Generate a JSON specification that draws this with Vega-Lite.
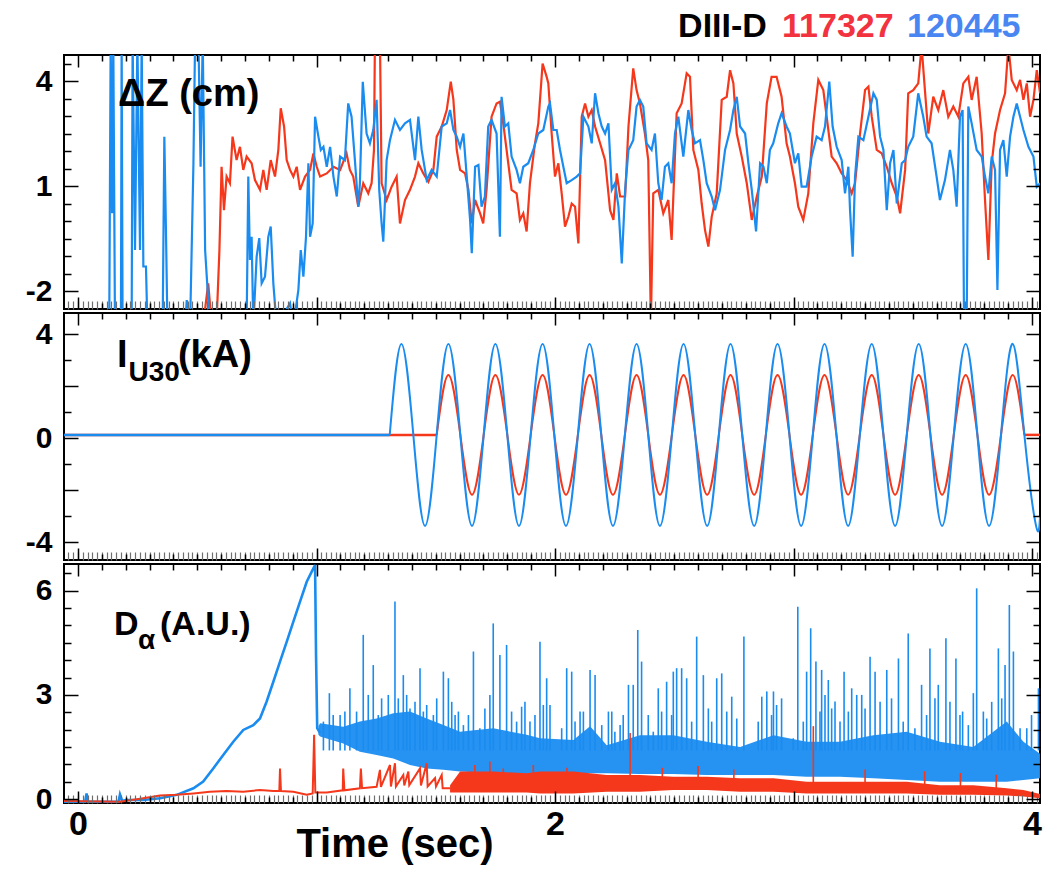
{
"$schema": "https://vega.github.io/schema/vega-lite/v6.json",
"background": "white",
"padding": {"left": 24, "top": 9, "right": 4, "bottom": 4},
"spacing": 4,
"bounds": "flush",
"resolve": {"scale": {"y": "independent"}},
"config": {"view": {"stroke": "black", "strokeWidth": 2}, "axis": {"labelFont": "Liberation Sans", "labelFontWeight": "bold", "labelColor": "black"}},
"datasets": {
"dz_red": [{"t":0.45,"v":-3},{"t":0.526,"v":-2.9},{"t":0.546,"v":-1.78},{"t":0.56,"v":-2.9},{"t":0.581,"v":-2.9},{"t":0.593,"v":-0.83},{"t":0.602,"v":1.55},{"t":0.612,"v":0.31},{"t":0.623,"v":1.27},{"t":0.637,"v":1.08},{"t":0.648,"v":2.41},{"t":0.665,"v":1.74},{"t":0.679,"v":2.12},{"t":0.693,"v":1.46},{"t":0.707,"v":1.84},{"t":0.728,"v":1.65},{"t":0.742,"v":1.17},{"t":0.763,"v":0.89},{"t":0.777,"v":1.46},{"t":0.791,"v":0.89},{"t":0.808,"v":1.74},{"t":0.826,"v":1.27},{"t":0.84,"v":2.03},{"t":0.85,"v":3.22},{"t":0.864,"v":2.7},{"t":0.875,"v":1.74},{"t":0.889,"v":1.46},{"t":0.903,"v":1.27},{"t":0.917,"v":1.55},{"t":0.931,"v":0.89},{"t":0.952,"v":1.27},{"t":0.973,"v":1.46},{"t":0.987,"v":1.93},{"t":1.001,"v":1.55},{"t":1.015,"v":1.27},{"t":1.043,"v":1.36},{"t":1.071,"v":1.55},{"t":1.099,"v":1.46},{"t":1.126,"v":1.93},{"t":1.14,"v":1.46},{"t":1.154,"v":1.27},{"t":1.175,"v":0.41},{"t":1.196,"v":1.08},{"t":1.217,"v":0.79},{"t":1.231,"v":1.08},{"t":1.241,"v":2.03},{"t":1.245,"v":5.2},{"t":1.266,"v":5.2},{"t":1.273,"v":1.08},{"t":1.294,"v":0.6},{"t":1.315,"v":0.98},{"t":1.336,"v":1.27},{"t":1.35,"v":-0.07},{"t":1.371,"v":0.6},{"t":1.392,"v":0.89},{"t":1.413,"v":1.27},{"t":1.427,"v":1.65},{"t":1.448,"v":1.36},{"t":1.469,"v":1.12},{"t":1.49,"v":1.46},{"t":1.504,"v":2.41},{"t":1.525,"v":2.7},{"t":1.546,"v":3.17},{"t":1.563,"v":3.98},{"t":1.574,"v":3.46},{"t":1.588,"v":2.03},{"t":1.602,"v":1.46},{"t":1.623,"v":1.36},{"t":1.637,"v":0.89},{"t":1.651,"v":-0.07},{"t":1.665,"v":0.6},{"t":1.686,"v":0.22},{"t":1.699,"v":-0.07},{"t":1.713,"v":0.89},{"t":1.734,"v":2.98},{"t":1.755,"v":3.36},{"t":1.769,"v":3.41},{"t":1.783,"v":2.79},{"t":1.797,"v":2.03},{"t":1.818,"v":0.89},{"t":1.839,"v":0.79},{"t":1.853,"v":0.03},{"t":1.867,"v":0.22},{"t":1.881,"v":-0.3},{"t":1.895,"v":1.08},{"t":1.916,"v":2.22},{"t":1.93,"v":2.79},{"t":1.948,"v":4.5},{"t":1.965,"v":4.12},{"t":1.972,"v":3.93},{"t":1.986,"v":2.5},{"t":2.0,"v":1.27},{"t":2.014,"v":1.65},{"t":2.028,"v":0.79},{"t":2.042,"v":-0.16},{"t":2.056,"v":0.12},{"t":2.07,"v":0.5},{"t":2.084,"v":0.41},{"t":2.098,"v":-0.64},{"t":2.112,"v":2.98},{"t":2.126,"v":3.36},{"t":2.14,"v":2.98},{"t":2.154,"v":3.17},{"t":2.168,"v":2.7},{"t":2.189,"v":2.22},{"t":2.21,"v":1.74},{"t":2.231,"v":0.31},{"t":2.245,"v":0.03},{"t":2.259,"v":1.36},{"t":2.273,"v":0.7},{"t":2.294,"v":0.7},{"t":2.308,"v":2.7},{"t":2.328,"v":4.36},{"t":2.342,"v":3.74},{"t":2.356,"v":3.36},{"t":2.377,"v":2.5},{"t":2.391,"v":1.74},{"t":2.402,"v":-2.9},{"t":2.412,"v":0.79},{"t":2.433,"v":0.89},{"t":2.454,"v":0.22},{"t":2.475,"v":0.6},{"t":2.489,"v":-0.54},{"t":2.51,"v":3.08},{"t":2.531,"v":3.36},{"t":2.552,"v":4.22},{"t":2.566,"v":4.12},{"t":2.58,"v":2.03},{"t":2.601,"v":1.46},{"t":2.615,"v":0.5},{"t":2.629,"v":-0.26},{"t":2.643,"v":-0.73},{"t":2.657,"v":0.12},{"t":2.678,"v":0.79},{"t":2.699,"v":3.46},{"t":2.72,"v":3.55},{"t":2.734,"v":4.31},{"t":2.748,"v":3.93},{"t":2.762,"v":2.5},{"t":2.783,"v":1.84},{"t":2.804,"v":1.08},{"t":2.825,"v":0.03},{"t":2.846,"v":0.7},{"t":2.867,"v":1.27},{"t":2.888,"v":3.36},{"t":2.908,"v":4.12},{"t":2.929,"v":4.12},{"t":2.95,"v":3.55},{"t":2.971,"v":2.22},{"t":2.985,"v":1.84},{"t":3.006,"v":1.08},{"t":3.02,"v":0.41},{"t":3.041,"v":0.03},{"t":3.062,"v":0.79},{"t":3.083,"v":2.79},{"t":3.104,"v":4.03},{"t":3.125,"v":3.74},{"t":3.139,"v":2.98},{"t":3.16,"v":1.84},{"t":3.181,"v":1.65},{"t":3.202,"v":1.36},{"t":3.223,"v":1.17},{"t":3.244,"v":0.79},{"t":3.258,"v":1.08},{"t":3.279,"v":2.5},{"t":3.3,"v":3.74},{"t":3.314,"v":3.84},{"t":3.328,"v":2.98},{"t":3.349,"v":2.03},{"t":3.37,"v":1.93},{"t":3.391,"v":1.55},{"t":3.412,"v":1.08},{"t":3.433,"v":0.7},{"t":3.447,"v":0.22},{"t":3.468,"v":1.46},{"t":3.481,"v":3.65},{"t":3.502,"v":3.74},{"t":3.523,"v":3.93},{"t":3.537,"v":5.0},{"t":3.551,"v":3.74},{"t":3.565,"v":2.5},{"t":3.586,"v":3.55},{"t":3.607,"v":3.17},{"t":3.628,"v":3.74},{"t":3.649,"v":2.98},{"t":3.67,"v":3.27},{"t":3.691,"v":2.98},{"t":3.712,"v":3.93},{"t":3.733,"v":4.12},{"t":3.747,"v":3.46},{"t":3.768,"v":4.12},{"t":3.789,"v":2.5},{"t":3.803,"v":0.6},{"t":3.817,"v":-1.11},{"t":3.831,"v":1.65},{"t":3.845,"v":2.5},{"t":3.866,"v":3.17},{"t":3.887,"v":3.65},{"t":3.901,"v":5.0},{"t":3.915,"v":4.03},{"t":3.936,"v":3.74},{"t":3.95,"v":4.03},{"t":3.964,"v":3.46},{"t":3.978,"v":3.93},{"t":3.992,"v":2.98},{"t":4.006,"v":3.46},{"t":4.02,"v":4.31},{"t":4.034,"v":3.65}],
"dz_blue": [{"t":-0.06,"v":-3},{"t":0.131,"v":-3},{"t":0.137,"v":5.2},{"t":0.143,"v":0.22},{"t":0.148,"v":5.2},{"t":0.155,"v":-3},{"t":0.18,"v":-3},{"t":0.183,"v":5.2},{"t":0.187,"v":-3},{"t":0.225,"v":-3},{"t":0.229,"v":5.2},{"t":0.239,"v":-0.83},{"t":0.249,"v":5.2},{"t":0.26,"v":-0.83},{"t":0.267,"v":5.2},{"t":0.274,"v":-1.3},{"t":0.285,"v":-1.3},{"t":0.291,"v":-3},{"t":0.355,"v":-3},{"t":0.362,"v":2.41},{"t":0.369,"v":-0.35},{"t":0.375,"v":-3},{"t":0.449,"v":-3},{"t":0.456,"v":-2.26},{"t":0.47,"v":-3},{"t":0.484,"v":1.65},{"t":0.491,"v":5.2},{"t":0.505,"v":5.2},{"t":0.514,"v":1.55},{"t":0.523,"v":5.2},{"t":0.533,"v":-0.83},{"t":0.546,"v":-2.26},{"t":0.553,"v":-3},{"t":0.707,"v":-3},{"t":0.714,"v":1.27},{"t":0.721,"v":-1.11},{"t":0.728,"v":-0.45},{"t":0.735,"v":-3},{"t":0.749,"v":-1.02},{"t":0.76,"v":-0.49},{"t":0.77,"v":-1.78},{"t":0.784,"v":-1.59},{"t":0.798,"v":-0.45},{"t":0.808,"v":-0.16},{"t":0.819,"v":-1.78},{"t":0.833,"v":-3},{"t":0.889,"v":-2.35},{"t":0.903,"v":-3},{"t":0.924,"v":-1.97},{"t":0.934,"v":-0.83},{"t":0.945,"v":-1.59},{"t":0.956,"v":-0.45},{"t":0.966,"v":1.65},{"t":0.973,"v":-0.45},{"t":0.984,"v":-0.07},{"t":0.994,"v":2.98},{"t":1.008,"v":2.41},{"t":1.018,"v":2.03},{"t":1.029,"v":2.12},{"t":1.043,"v":1.55},{"t":1.057,"v":2.12},{"t":1.071,"v":1.27},{"t":1.085,"v":0.7},{"t":1.099,"v":1.84},{"t":1.119,"v":1.74},{"t":1.133,"v":3.36},{"t":1.147,"v":2.98},{"t":1.161,"v":1.74},{"t":1.175,"v":0.41},{"t":1.182,"v":1.08},{"t":1.194,"v":3.98},{"t":1.21,"v":2.5},{"t":1.224,"v":2.22},{"t":1.238,"v":2.6},{"t":1.252,"v":3.46},{"t":1.263,"v":0.89},{"t":1.273,"v":-0.07},{"t":1.28,"v":-0.59},{"t":1.294,"v":1.74},{"t":1.308,"v":2.31},{"t":1.329,"v":2.89},{"t":1.35,"v":2.6},{"t":1.371,"v":2.79},{"t":1.392,"v":2.89},{"t":1.413,"v":1.74},{"t":1.427,"v":2.98},{"t":1.441,"v":2.03},{"t":1.462,"v":1.17},{"t":1.483,"v":1.46},{"t":1.504,"v":1.27},{"t":1.525,"v":2.7},{"t":1.546,"v":2.79},{"t":1.56,"v":3.17},{"t":1.574,"v":2.6},{"t":1.588,"v":2.41},{"t":1.602,"v":2.12},{"t":1.616,"v":2.5},{"t":1.63,"v":1.27},{"t":1.644,"v":0.03},{"t":1.651,"v":-0.92},{"t":1.665,"v":1.55},{"t":1.679,"v":1.6},{"t":1.692,"v":0.41},{"t":1.706,"v":0.7},{"t":1.72,"v":2.7},{"t":1.734,"v":2.89},{"t":1.755,"v":2.5},{"t":1.769,"v":-0.45},{"t":1.776,"v":3.55},{"t":1.79,"v":2.7},{"t":1.804,"v":2.79},{"t":1.818,"v":1.84},{"t":1.839,"v":1.46},{"t":1.853,"v":1.08},{"t":1.867,"v":1.55},{"t":1.888,"v":1.65},{"t":1.909,"v":2.03},{"t":1.93,"v":2.5},{"t":1.951,"v":2.6},{"t":1.972,"v":3.27},{"t":1.979,"v":3.36},{"t":1.993,"v":2.6},{"t":2.007,"v":2.6},{"t":2.021,"v":2.03},{"t":2.035,"v":1.55},{"t":2.049,"v":1.08},{"t":2.07,"v":1.17},{"t":2.091,"v":1.27},{"t":2.105,"v":1.36},{"t":2.119,"v":2.98},{"t":2.14,"v":2.7},{"t":2.154,"v":2.22},{"t":2.168,"v":3.65},{"t":2.182,"v":3.08},{"t":2.196,"v":2.7},{"t":2.21,"v":2.5},{"t":2.224,"v":2.79},{"t":2.238,"v":0.89},{"t":2.252,"v":1.08},{"t":2.266,"v":0.41},{"t":2.28,"v":-1.21},{"t":2.294,"v":0.89},{"t":2.308,"v":2.03},{"t":2.328,"v":2.31},{"t":2.342,"v":3.27},{"t":2.356,"v":3.46},{"t":2.37,"v":3.27},{"t":2.384,"v":2.22},{"t":2.405,"v":2.03},{"t":2.419,"v":2.5},{"t":2.433,"v":1.08},{"t":2.447,"v":0.6},{"t":2.461,"v":1.55},{"t":2.475,"v":1.65},{"t":2.489,"v":1.08},{"t":2.503,"v":2.5},{"t":2.517,"v":2.98},{"t":2.538,"v":1.84},{"t":2.559,"v":3.17},{"t":2.573,"v":2.6},{"t":2.587,"v":2.22},{"t":2.608,"v":2.31},{"t":2.622,"v":1.74},{"t":2.636,"v":1.08},{"t":2.657,"v":0.7},{"t":2.671,"v":0.31},{"t":2.692,"v":0.89},{"t":2.713,"v":2.03},{"t":2.734,"v":2.6},{"t":2.748,"v":3.17},{"t":2.762,"v":3.55},{"t":2.776,"v":2.7},{"t":2.797,"v":2.5},{"t":2.811,"v":1.65},{"t":2.825,"v":0.89},{"t":2.843,"v":-0.3},{"t":2.86,"v":1.65},{"t":2.874,"v":1.55},{"t":2.888,"v":1.08},{"t":2.901,"v":2.03},{"t":2.915,"v":2.22},{"t":2.936,"v":2.79},{"t":2.95,"v":3.08},{"t":2.971,"v":2.7},{"t":2.985,"v":2.5},{"t":3.006,"v":1.65},{"t":3.02,"v":1.93},{"t":3.034,"v":0.98},{"t":3.055,"v":0.98},{"t":3.076,"v":1.84},{"t":3.097,"v":2.41},{"t":3.118,"v":2.31},{"t":3.132,"v":2.7},{"t":3.15,"v":3.98},{"t":3.164,"v":2.7},{"t":3.181,"v":2.12},{"t":3.202,"v":1.74},{"t":3.216,"v":0.79},{"t":3.23,"v":1.55},{"t":3.237,"v":0.31},{"t":3.248,"v":-1.02},{"t":3.258,"v":1.27},{"t":3.272,"v":2.41},{"t":3.293,"v":2.31},{"t":3.314,"v":2.98},{"t":3.335,"v":3.65},{"t":3.349,"v":3.46},{"t":3.363,"v":2.41},{"t":3.377,"v":2.03},{"t":3.391,"v":0.31},{"t":3.405,"v":1.65},{"t":3.419,"v":2.03},{"t":3.433,"v":0.5},{"t":3.454,"v":1.65},{"t":3.468,"v":1.74},{"t":3.481,"v":2.12},{"t":3.502,"v":2.41},{"t":3.523,"v":3.65},{"t":3.544,"v":2.98},{"t":3.558,"v":2.41},{"t":3.579,"v":2.22},{"t":3.6,"v":1.27},{"t":3.614,"v":0.6},{"t":3.635,"v":1.17},{"t":3.656,"v":2.03},{"t":3.67,"v":1.46},{"t":3.684,"v":0.41},{"t":3.698,"v":2.98},{"t":3.709,"v":3.17},{"t":3.715,"v":-3},{"t":3.726,"v":-3},{"t":3.733,"v":3.27},{"t":3.747,"v":2.79},{"t":3.768,"v":2.03},{"t":3.789,"v":1.84},{"t":3.803,"v":1.27},{"t":3.817,"v":0.79},{"t":3.831,"v":1.84},{"t":3.845,"v":1.46},{"t":3.855,"v":-1.97},{"t":3.866,"v":2.03},{"t":3.88,"v":2.31},{"t":3.894,"v":1.27},{"t":3.908,"v":2.41},{"t":3.922,"v":2.98},{"t":3.936,"v":3.36},{"t":3.95,"v":2.98},{"t":3.964,"v":2.6},{"t":3.985,"v":2.12},{"t":4.006,"v":1.84},{"t":4.02,"v":0.98},{"t":4.034,"v":1.08}],
"iu_red_flat": [{"seg":1,"t":-0.06,"v":0.12},{"seg":1,"t":1.504,"v":0.12},{"seg":2,"t":3.968,"v":0.12},{"seg":2,"t":4.034,"v":0.12}],
"iu_blue_flat": [{"t":-0.06,"v":0.12},{"t":1.307,"v":0.12}],
"iu_red_sine": [{"t":1.504,"v":0.12},{"t":1.553,"v":2.42},{"t":1.603,"v":0.12},{"t":1.652,"v":-2.18},{"t":1.701,"v":0.12},{"t":1.75,"v":2.42},{"t":1.8,"v":0.12},{"t":1.849,"v":-2.18},{"t":1.898,"v":0.12},{"t":1.948,"v":2.42},{"t":1.997,"v":0.12},{"t":2.046,"v":-2.18},{"t":2.096,"v":0.12},{"t":2.145,"v":2.42},{"t":2.194,"v":0.12},{"t":2.243,"v":-2.18},{"t":2.293,"v":0.12},{"t":2.342,"v":2.42},{"t":2.391,"v":0.12},{"t":2.44,"v":-2.18},{"t":2.49,"v":0.12},{"t":2.539,"v":2.42},{"t":2.588,"v":0.12},{"t":2.638,"v":-2.18},{"t":2.687,"v":0.12},{"t":2.736,"v":2.42},{"t":2.785,"v":0.12},{"t":2.835,"v":-2.18},{"t":2.884,"v":0.12},{"t":2.933,"v":2.42},{"t":2.983,"v":0.12},{"t":3.032,"v":-2.18},{"t":3.081,"v":0.12},{"t":3.13,"v":2.42},{"t":3.18,"v":0.12},{"t":3.229,"v":-2.18},{"t":3.278,"v":0.12},{"t":3.328,"v":2.42},{"t":3.377,"v":0.12},{"t":3.426,"v":-2.18},{"t":3.475,"v":0.12},{"t":3.525,"v":2.42},{"t":3.574,"v":0.12},{"t":3.623,"v":-2.18},{"t":3.672,"v":0.12},{"t":3.722,"v":2.42},{"t":3.771,"v":0.12},{"t":3.82,"v":-2.18},{"t":3.87,"v":0.12},{"t":3.919,"v":2.42},{"t":3.968,"v":0.12}],
"iu_blue_sine": [{"t":1.307,"v":0.12},{"t":1.356,"v":3.62},{"t":1.406,"v":0.12},{"t":1.455,"v":-3.38},{"t":1.504,"v":0.12},{"t":1.553,"v":3.62},{"t":1.603,"v":0.12},{"t":1.652,"v":-3.38},{"t":1.701,"v":0.12},{"t":1.75,"v":3.62},{"t":1.8,"v":0.12},{"t":1.849,"v":-3.38},{"t":1.898,"v":0.12},{"t":1.948,"v":3.62},{"t":1.997,"v":0.12},{"t":2.046,"v":-3.38},{"t":2.096,"v":0.12},{"t":2.145,"v":3.62},{"t":2.194,"v":0.12},{"t":2.243,"v":-3.38},{"t":2.293,"v":0.12},{"t":2.342,"v":3.62},{"t":2.391,"v":0.12},{"t":2.44,"v":-3.38},{"t":2.49,"v":0.12},{"t":2.539,"v":3.62},{"t":2.588,"v":0.12},{"t":2.638,"v":-3.38},{"t":2.687,"v":0.12},{"t":2.736,"v":3.62},{"t":2.785,"v":0.12},{"t":2.835,"v":-3.38},{"t":2.884,"v":0.12},{"t":2.933,"v":3.62},{"t":2.983,"v":0.12},{"t":3.032,"v":-3.38},{"t":3.081,"v":0.12},{"t":3.13,"v":3.62},{"t":3.18,"v":0.12},{"t":3.229,"v":-3.38},{"t":3.278,"v":0.12},{"t":3.328,"v":3.62},{"t":3.377,"v":0.12},{"t":3.426,"v":-3.38},{"t":3.475,"v":0.12},{"t":3.525,"v":3.62},{"t":3.574,"v":0.12},{"t":3.623,"v":-3.38},{"t":3.672,"v":0.12},{"t":3.722,"v":3.62},{"t":3.771,"v":0.12},{"t":3.82,"v":-3.38},{"t":3.87,"v":0.12},{"t":3.919,"v":3.62},{"t":3.968,"v":0.12},{"t":4.017,"v":-3.38},{"t":4.034,"v":-3.0}],
"da_blue_line": [{"t":-0.06,"v":-0.08},{"t":0.03,"v":-0.08},{"t":0.036,"v":0.16},{"t":0.042,"v":-0.08},{"t":0.17,"v":-0.08},{"t":0.176,"v":0.13},{"t":0.185,"v":-0.05},{"t":0.204,"v":-0.03},{"t":0.274,"v":-0.03},{"t":0.344,"v":0.02},{"t":0.414,"v":0.12},{"t":0.484,"v":0.31},{"t":0.525,"v":0.5},{"t":0.567,"v":0.88},{"t":0.609,"v":1.27},{"t":0.651,"v":1.65},{"t":0.693,"v":1.99},{"t":0.735,"v":2.13},{"t":0.763,"v":2.32},{"t":0.791,"v":2.81},{"t":0.819,"v":3.38},{"t":0.847,"v":3.96},{"t":0.875,"v":4.53},{"t":0.903,"v":5.11},{"t":0.931,"v":5.69},{"t":0.959,"v":6.26},{"t":0.98,"v":6.55},{"t":0.994,"v":6.74},{"t":0.998,"v":4.15},{"t":1.003,"v":2.04},{"t":1.015,"v":1.9}],
"da_blue_band": [{"t":1.008,"lo":1.85,"hi":2.1},{"t":1.015,"lo":1.8,"hi":2.18},{"t":1.112,"lo":1.6,"hi":2.08},{"t":1.182,"lo":1.36,"hi":2.23},{"t":1.252,"lo":1.27,"hi":2.32},{"t":1.322,"lo":1.17,"hi":2.47},{"t":1.392,"lo":0.98,"hi":2.52},{"t":1.462,"lo":0.88,"hi":2.32},{"t":1.532,"lo":0.84,"hi":2.13},{"t":1.602,"lo":0.79,"hi":1.94},{"t":1.741,"lo":0.74,"hi":2.04},{"t":1.881,"lo":0.7,"hi":1.85},{"t":1.937,"lo":0.72,"hi":1.75},{"t":2.077,"lo":0.74,"hi":1.7},{"t":2.147,"lo":0.74,"hi":2.1},{"t":2.217,"lo":0.74,"hi":1.55},{"t":2.356,"lo":0.72,"hi":1.84},{"t":2.496,"lo":0.72,"hi":1.84},{"t":2.636,"lo":0.69,"hi":1.65},{"t":2.776,"lo":0.69,"hi":1.5},{"t":2.916,"lo":0.69,"hi":1.84},{"t":3.055,"lo":0.64,"hi":1.65},{"t":3.195,"lo":0.64,"hi":1.65},{"t":3.335,"lo":0.6,"hi":1.84},{"t":3.475,"lo":0.55,"hi":1.94},{"t":3.614,"lo":0.5,"hi":1.65},{"t":3.754,"lo":0.5,"hi":1.5},{"t":3.894,"lo":0.5,"hi":2.23},{"t":3.964,"lo":0.55,"hi":1.65},{"t":4.034,"lo":0.6,"hi":1.3}],
"da_blue_spikes": [{"t":1.029,"v":2.23},{"t":1.054,"v":3.05},{"t":1.07,"v":2.42},{"t":1.099,"v":2.42},{"t":1.119,"v":2.52},{"t":1.14,"v":3.19},{"t":1.168,"v":2.52},{"t":1.196,"v":4.73},{"t":1.217,"v":3.0},{"t":1.238,"v":3.86},{"t":1.259,"v":2.42},{"t":1.273,"v":2.9},{"t":1.301,"v":3.0},{"t":1.329,"v":5.69},{"t":1.343,"v":2.9},{"t":1.364,"v":3.57},{"t":1.378,"v":3.0},{"t":1.392,"v":2.61},{"t":1.413,"v":2.8},{"t":1.434,"v":3.77},{"t":1.448,"v":2.52},{"t":1.462,"v":2.71},{"t":1.49,"v":2.42},{"t":1.504,"v":2.9},{"t":1.532,"v":3.67},{"t":1.553,"v":3.48},{"t":1.567,"v":2.8},{"t":1.581,"v":2.42},{"t":1.595,"v":2.52},{"t":1.616,"v":2.13},{"t":1.637,"v":2.42},{"t":1.658,"v":4.25},{"t":1.685,"v":2.04},{"t":1.706,"v":2.61},{"t":1.727,"v":3.0},{"t":1.741,"v":5.06},{"t":1.769,"v":4.15},{"t":1.797,"v":4.44},{"t":1.818,"v":2.52},{"t":1.839,"v":2.23},{"t":1.86,"v":2.66},{"t":1.874,"v":2.8},{"t":1.895,"v":2.23},{"t":1.916,"v":2.42},{"t":1.937,"v":4.53},{"t":1.951,"v":2.71},{"t":1.965,"v":3.48},{"t":1.979,"v":2.71},{"t":2.028,"v":2.04},{"t":2.049,"v":3.77},{"t":2.07,"v":3.67},{"t":2.084,"v":2.23},{"t":2.105,"v":2.52},{"t":2.119,"v":2.52},{"t":2.147,"v":3.72},{"t":2.168,"v":3.57},{"t":2.196,"v":2.13},{"t":2.224,"v":2.52},{"t":2.238,"v":2.52},{"t":2.251,"v":1.94},{"t":2.273,"v":2.13},{"t":2.286,"v":2.42},{"t":2.308,"v":3.29},{"t":2.328,"v":3.29},{"t":2.347,"v":4.87},{"t":2.363,"v":3.96},{"t":2.391,"v":2.42},{"t":2.412,"v":1.94},{"t":2.433,"v":3.19},{"t":2.447,"v":2.52},{"t":2.468,"v":3.38},{"t":2.489,"v":2.42},{"t":2.496,"v":3.67},{"t":2.51,"v":3.77},{"t":2.531,"v":3.77},{"t":2.552,"v":3.48},{"t":2.573,"v":2.23},{"t":2.594,"v":4.68},{"t":2.622,"v":3.57},{"t":2.643,"v":2.61},{"t":2.657,"v":2.23},{"t":2.678,"v":3.48},{"t":2.699,"v":3.62},{"t":2.72,"v":2.52},{"t":2.741,"v":2.95},{"t":2.762,"v":2.32},{"t":2.792,"v":4.68},{"t":2.852,"v":2.23},{"t":2.867,"v":2.95},{"t":2.888,"v":3.1},{"t":2.908,"v":2.42},{"t":2.916,"v":3.1},{"t":2.929,"v":2.71},{"t":2.95,"v":2.9},{"t":2.999,"v":1.75},{"t":3.018,"v":5.54},{"t":3.041,"v":2.23},{"t":3.055,"v":3.67},{"t":3.072,"v":4.92},{"t":3.094,"v":3.96},{"t":3.111,"v":2.52},{"t":3.118,"v":3.72},{"t":3.132,"v":3.0},{"t":3.146,"v":3.43},{"t":3.16,"v":2.61},{"t":3.174,"v":2.81},{"t":3.195,"v":2.23},{"t":3.212,"v":3.67},{"t":3.23,"v":2.52},{"t":3.244,"v":3.19},{"t":3.265,"v":3.0},{"t":3.286,"v":3.0},{"t":3.3,"v":2.61},{"t":3.321,"v":4.1},{"t":3.342,"v":3.67},{"t":3.363,"v":2.8},{"t":3.391,"v":3.72},{"t":3.411,"v":2.9},{"t":3.44,"v":4.05},{"t":3.46,"v":2.23},{"t":3.481,"v":4.77},{"t":3.509,"v":2.04},{"t":3.537,"v":3.29},{"t":3.558,"v":2.42},{"t":3.572,"v":4.34},{"t":3.593,"v":2.9},{"t":3.607,"v":3.29},{"t":3.639,"v":4.63},{"t":3.656,"v":2.8},{"t":3.681,"v":4.05},{"t":3.698,"v":2.42},{"t":3.709,"v":2.52},{"t":3.733,"v":2.13},{"t":3.754,"v":3.05},{"t":3.768,"v":6.07},{"t":3.796,"v":2.52},{"t":3.81,"v":2.32},{"t":3.831,"v":2.8},{"t":3.859,"v":4.34},{"t":3.873,"v":2.9},{"t":3.887,"v":3.86},{"t":3.905,"v":5.59},{"t":3.922,"v":4.25},{"t":3.95,"v":2.04},{"t":3.978,"v":2.04},{"t":3.998,"v":2.42},{"t":4.027,"v":3.19}],
"da_red_line": [{"t":-0.06,"v":-0.06},{"t":0.176,"v":-0.08},{"t":0.274,"v":0.02},{"t":0.344,"v":0.1},{"t":0.414,"v":0.12},{"t":0.484,"v":0.16},{"t":0.553,"v":0.21},{"t":0.623,"v":0.23},{"t":0.693,"v":0.21},{"t":0.763,"v":0.26},{"t":0.819,"v":0.23},{"t":0.844,"v":0.23},{"t":0.847,"v":0.88},{"t":0.851,"v":0.23},{"t":0.903,"v":0.21},{"t":0.959,"v":0.12},{"t":0.984,"v":0.16},{"t":0.99,"v":1.85},{"t":0.995,"v":0.19},{"t":1.043,"v":0.19},{"t":1.11,"v":0.25},{"t":1.112,"v":0.88},{"t":1.117,"v":0.25},{"t":1.182,"v":0.31},{"t":1.186,"v":0.88},{"t":1.191,"v":0.31},{"t":1.252,"v":0.35},{"t":1.266,"v":0.84},{"t":1.27,"v":0.35},{"t":1.308,"v":0.98},{"t":1.312,"v":0.36},{"t":1.329,"v":1.03},{"t":1.333,"v":0.36},{"t":1.364,"v":0.69},{"t":1.368,"v":0.39},{"t":1.385,"v":0.79},{"t":1.389,"v":0.4},{"t":1.434,"v":0.88},{"t":1.438,"v":0.39},{"t":1.462,"v":1.03},{"t":1.466,"v":0.36},{"t":1.497,"v":0.6},{"t":1.501,"v":0.36},{"t":1.525,"v":0.69},{"t":1.529,"v":0.31},{"t":1.56,"v":0.31}],
"da_red_band": [{"t":1.56,"lo":0.19,"hi":0.4},{"t":1.602,"lo":0.19,"hi":0.79},{"t":1.741,"lo":0.19,"hi":0.79},{"t":1.881,"lo":0.19,"hi":0.74},{"t":1.937,"lo":0.16,"hi":0.79},{"t":2.077,"lo":0.16,"hi":0.79},{"t":2.217,"lo":0.21,"hi":0.69},{"t":2.356,"lo":0.21,"hi":0.69},{"t":2.496,"lo":0.26,"hi":0.64},{"t":2.636,"lo":0.26,"hi":0.64},{"t":2.776,"lo":0.21,"hi":0.6},{"t":2.916,"lo":0.21,"hi":0.6},{"t":3.055,"lo":0.16,"hi":0.5},{"t":3.195,"lo":0.16,"hi":0.5},{"t":3.335,"lo":0.16,"hi":0.5},{"t":3.475,"lo":0.16,"hi":0.5},{"t":3.614,"lo":0.12,"hi":0.4},{"t":3.754,"lo":0.12,"hi":0.4},{"t":3.894,"lo":0.1,"hi":0.31},{"t":3.964,"lo":0.07,"hi":0.26},{"t":4.034,"lo":0.02,"hi":0.14}],
"da_red_spikes": [{"t":1.664,"v":0.98},{"t":1.727,"v":1.08},{"t":1.783,"v":0.88},{"t":1.909,"v":0.98},{"t":2.05,"v":0.9},{"t":2.315,"v":1.9},{"t":2.45,"v":0.9},{"t":2.6,"v":0.95},{"t":2.75,"v":0.85},{"t":3.083,"v":2.1},{"t":3.3,"v":0.85},{"t":3.55,"v":0.8},{"t":3.7,"v":0.75},{"t":3.85,"v":0.7}]
},
"vconcat": [
{
"width": 976, "height": 254,
"resolve": {"axis": {"x": "independent", "y": "independent"}},
"layer": [
{"data": {"name": "dz_red"}, "mark": {"type": "line", "color": "#f5381c", "strokeWidth": 2.2, "clip": true},
 "encoding": {
  "x": {"field": "t", "type": "quantitative", "scale": {"domain": [-0.0587, 4.0335], "nice": false, "zero": false},
        "axis": {"orient": "bottom", "tickCount": 40, "labels": false, "domain": false, "grid": false, "title": null, "tickColor": "black", "tickWidth": 1.5, "tickSize": {"condition": {"test": "abs(datum.value-round(datum.value))<0.001", "value": -12}, "value": -6}, "zindex": 2}},
  "y": {"field": "v", "type": "quantitative", "scale": {"domain": [-2.514, 4.743], "nice": false, "zero": false},
        "axis": {"orient": "left", "values": [-2, 1, 4], "ticks": false, "domain": false, "grid": false, "title": null, "labelFontSize": 30, "labelPadding": 12, "labelExpr": "datum.value < 0 ? '-' + abs(datum.value) : '' + datum.value"}}}},
{"data": {"name": "dz_blue"}, "mark": {"type": "line", "color": "#1a8cf0", "strokeWidth": 2.2, "clip": true},
 "encoding": {
  "x": {"field": "t", "type": "quantitative", "scale": {"domain": [-0.0587, 4.0335], "nice": false, "zero": false},
        "axis": {"orient": "top", "tickCount": 40, "labels": false, "domain": false, "grid": false, "title": null, "tickColor": "black", "tickWidth": 1.5, "tickSize": {"condition": {"test": "abs(datum.value-round(datum.value))<0.001", "value": -12}, "value": -6}, "zindex": 2}},
  "y": {"field": "v", "type": "quantitative", "scale": {"domain": [-2.514, 4.743], "nice": false, "zero": false},
        "axis": {"orient": "left", "values": [-2, -1.5, -1, -0.5, 0, 0.5, 1, 1.5, 2, 2.5, 3, 3.5, 4, 4.5], "labels": false, "domain": false, "grid": false, "title": null, "tickColor": "black", "tickWidth": 1.5, "tickSize": {"condition": {"test": "datum.value === -2 || datum.value === 1 || datum.value === 4", "value": -14}, "value": -7}, "zindex": 2}}}},
{"data": {"values": [{"t": 0.168, "v": 3.6, "label": "ΔZ (cm)"}]},
 "mark": {"type": "text", "align": "left", "baseline": "middle", "font": "Liberation Sans", "fontWeight": "bold", "fontSize": 38, "color": "black"},
 "encoding": {
  "x": {"field": "t", "type": "quantitative", "scale": {"domain": [-0.0587, 4.0335], "nice": false, "zero": false},
        "axis": {"orient": "bottom", "tickCount": 200, "labels": false, "domain": false, "grid": false, "title": null, "tickColor": "#6e6e6e", "tickWidth": 1.2, "tickSize": -8, "zindex": 1}},
  "y": {"field": "v", "type": "quantitative", "scale": {"domain": [-2.514, 4.743], "nice": false, "zero": false},
        "axis": {"orient": "right", "values": [-2, -1.5, -1, -0.5, 0, 0.5, 1, 1.5, 2, 2.5, 3, 3.5, 4, 4.5], "labels": false, "domain": false, "grid": false, "title": null, "tickColor": "black", "tickWidth": 1.5, "tickSize": {"condition": {"test": "datum.value === -2 || datum.value === 1 || datum.value === 4", "value": -14}, "value": -7}, "zindex": 2}},
  "text": {"field": "label"}}},
{"data": {"values": [{"t": 2.516, "v": 5.54, "label": "DIII-D"}, {"t": 2.952, "v": 5.54, "label": "117327"}, {"t": 3.476, "v": 5.54, "label": "120445"}]},
 "mark": {"type": "text", "align": "left", "baseline": "middle", "font": "Liberation Sans", "fontWeight": "bold", "fontSize": 34},
 "encoding": {
  "x": {"field": "t", "type": "quantitative", "scale": {"domain": [-0.0587, 4.0335], "nice": false, "zero": false}, "axis": null},
  "y": {"field": "v", "type": "quantitative", "scale": {"domain": [-2.514, 4.743], "nice": false, "zero": false}, "axis": null},
  "text": {"field": "label"},
  "color": {"field": "label", "type": "nominal", "scale": {"domain": ["DIII-D", "117327", "120445"], "range": ["#000000", "#f2333f", "#4a86f2"]}, "legend": null}}}
]
},
{
"width": 976, "height": 247,
"resolve": {"axis": {"x": "independent", "y": "independent"}},
"layer": [
{"data": {"name": "iu_red_flat"}, "mark": {"type": "line", "color": "#f5381c", "strokeWidth": 2.5, "clip": true},
 "encoding": {
  "x": {"field": "t", "type": "quantitative", "scale": {"domain": [-0.0587, 4.0335], "nice": false, "zero": false},
        "axis": {"orient": "bottom", "tickCount": 40, "labels": false, "domain": false, "grid": false, "title": null, "tickColor": "black", "tickWidth": 1.5, "tickSize": {"condition": {"test": "abs(datum.value-round(datum.value))<0.001", "value": -12}, "value": -6}, "zindex": 2}},
  "y": {"field": "v", "type": "quantitative", "scale": {"domain": [-4.692, 4.808], "nice": false, "zero": false},
        "axis": {"orient": "left", "values": [-4, 0, 4], "ticks": false, "domain": false, "grid": false, "title": null, "labelFontSize": 30, "labelPadding": 12, "labelExpr": "datum.value < 0 ? '-' + abs(datum.value) : '' + datum.value"}},
  "detail": {"field": "seg", "type": "nominal"}}},
{"data": {"name": "iu_red_sine"}, "mark": {"type": "line", "color": "#f5381c", "strokeWidth": 2, "interpolate": "natural", "clip": true},
 "encoding": {
  "x": {"field": "t", "type": "quantitative", "scale": {"domain": [-0.0587, 4.0335], "nice": false, "zero": false},
        "axis": {"orient": "top", "tickCount": 40, "labels": false, "domain": false, "grid": false, "title": null, "tickColor": "black", "tickWidth": 1.5, "tickSize": {"condition": {"test": "abs(datum.value-round(datum.value))<0.001", "value": -12}, "value": -6}, "zindex": 2}},
  "y": {"field": "v", "type": "quantitative", "scale": {"domain": [-4.692, 4.808], "nice": false, "zero": false},
        "axis": {"orient": "left", "values": [-4, -3, -2, -1, 0, 1, 2, 3, 4], "labels": false, "domain": false, "grid": false, "title": null, "tickColor": "black", "tickWidth": 1.5, "tickSize": {"condition": {"test": "datum.value % 2 === 0", "value": -14}, "value": -7}, "zindex": 2}}}},
{"data": {"name": "iu_blue_flat"}, "mark": {"type": "line", "color": "#1a8cf0", "strokeWidth": 2.5, "clip": true},
 "encoding": {
  "x": {"field": "t", "type": "quantitative", "scale": {"domain": [-0.0587, 4.0335], "nice": false, "zero": false},
        "axis": {"orient": "bottom", "tickCount": 200, "labels": false, "domain": false, "grid": false, "title": null, "tickColor": "#6e6e6e", "tickWidth": 1.2, "tickSize": -8, "zindex": 1}},
  "y": {"field": "v", "type": "quantitative", "scale": {"domain": [-4.692, 4.808], "nice": false, "zero": false},
        "axis": {"orient": "right", "values": [-4, -3, -2, -1, 0, 1, 2, 3, 4], "labels": false, "domain": false, "grid": false, "title": null, "tickColor": "black", "tickWidth": 1.5, "tickSize": {"condition": {"test": "datum.value % 2 === 0", "value": -14}, "value": -7}, "zindex": 2}}}},
{"data": {"name": "iu_blue_sine"}, "mark": {"type": "line", "color": "#1a8cf0", "strokeWidth": 2, "interpolate": "natural", "clip": true},
 "encoding": {
  "x": {"field": "t", "type": "quantitative", "scale": {"domain": [-0.0587, 4.0335], "nice": false, "zero": false}, "axis": null},
  "y": {"field": "v", "type": "quantitative", "scale": {"domain": [-4.692, 4.808], "nice": false, "zero": false}, "axis": null}}},
{"data": {"values": [{"t": 0.164, "v": 3.15, "label": "I"}, {"t": 0.419, "v": 3.15, "label": "(kA)"}]},
 "mark": {"type": "text", "align": "left", "baseline": "middle", "font": "Liberation Sans", "fontWeight": "bold", "fontSize": 38, "color": "black"},
 "encoding": {
  "x": {"field": "t", "type": "quantitative", "scale": {"domain": [-0.0587, 4.0335], "nice": false, "zero": false}, "axis": null},
  "y": {"field": "v", "type": "quantitative", "scale": {"domain": [-4.692, 4.808], "nice": false, "zero": false}, "axis": null},
  "text": {"field": "label"}}},
{"data": {"values": [{"t": 0.212, "v": 2.5, "label": "U30"}]},
 "mark": {"type": "text", "align": "left", "baseline": "middle", "font": "Liberation Sans", "fontWeight": "bold", "fontSize": 28, "color": "black"},
 "encoding": {
  "x": {"field": "t", "type": "quantitative", "scale": {"domain": [-0.0587, 4.0335], "nice": false, "zero": false}, "axis": null},
  "y": {"field": "v", "type": "quantitative", "scale": {"domain": [-4.692, 4.808], "nice": false, "zero": false}, "axis": null},
  "text": {"field": "label"}}}
]
},
{
"width": 976, "height": 239,
"resolve": {"axis": {"x": "independent", "y": "independent"}},
"layer": [
{"data": {"name": "da_blue_band"}, "mark": {"type": "area", "color": "#1a8cf0", "opacity": 0.95, "clip": true},
 "encoding": {
  "x": {"field": "t", "type": "quantitative", "scale": {"domain": [-0.0587, 4.0335], "nice": false, "zero": false},
        "axis": {"orient": "bottom", "tickCount": 40, "labels": false, "domain": false, "grid": false, "title": null, "tickColor": "black", "tickWidth": 1.5, "tickSize": {"condition": {"test": "abs(datum.value-round(datum.value))<0.001", "value": -12}, "value": -6}, "zindex": 2}},
  "y": {"field": "lo", "type": "quantitative", "scale": {"domain": [-0.115, 6.772], "nice": false, "zero": false},
        "axis": {"orient": "left", "values": [0, 3, 6], "ticks": false, "domain": false, "grid": false, "title": null, "labelFontSize": 30, "labelPadding": 12}},
  "y2": {"field": "hi"}}},
{"data": {"name": "da_blue_spikes"}, "mark": {"type": "rule", "color": "#1a8cf0", "strokeWidth": 1.6, "clip": true},
 "encoding": {
  "x": {"field": "t", "type": "quantitative", "scale": {"domain": [-0.0587, 4.0335], "nice": false, "zero": false},
        "axis": {"orient": "top", "tickCount": 40, "labels": false, "domain": false, "grid": false, "title": null, "tickColor": "black", "tickWidth": 1.5, "tickSize": {"condition": {"test": "abs(datum.value-round(datum.value))<0.001", "value": -12}, "value": -6}, "zindex": 2}},
  "y": {"field": "v", "type": "quantitative", "scale": {"domain": [-0.115, 6.772], "nice": false, "zero": false},
        "axis": {"orient": "left", "values": [0, 0.5, 1, 1.5, 2, 2.5, 3, 3.5, 4, 4.5, 5, 5.5, 6, 6.5], "labels": false, "domain": false, "grid": false, "title": null, "tickColor": "black", "tickWidth": 1.5, "tickSize": {"condition": {"test": "datum.value % 3 === 0", "value": -14}, "value": -7}, "zindex": 2}},
  "y2": {"datum": 1.4}}},
{"data": {"name": "da_blue_line"}, "mark": {"type": "line", "color": "#1a8cf0", "strokeWidth": 2.6, "clip": true},
 "encoding": {
  "x": {"field": "t", "type": "quantitative", "scale": {"domain": [-0.0587, 4.0335], "nice": false, "zero": false},
        "axis": {"orient": "bottom", "tickCount": 200, "labels": false, "domain": false, "grid": false, "title": null, "tickColor": "#6e6e6e", "tickWidth": 1.2, "tickSize": -8, "zindex": 1}},
  "y": {"field": "v", "type": "quantitative", "scale": {"domain": [-0.115, 6.772], "nice": false, "zero": false},
        "axis": {"orient": "right", "values": [0, 0.5, 1, 1.5, 2, 2.5, 3, 3.5, 4, 4.5, 5, 5.5, 6, 6.5], "labels": false, "domain": false, "grid": false, "title": null, "tickColor": "black", "tickWidth": 1.5, "tickSize": {"condition": {"test": "datum.value % 3 === 0", "value": -14}, "value": -7}, "zindex": 2}}}},
{"data": {"name": "da_red_band"}, "mark": {"type": "area", "color": "#f5381c", "clip": true},
 "encoding": {
  "x": {"field": "t", "type": "quantitative", "scale": {"domain": [-0.0587, 4.0335], "nice": false, "zero": false},
        "axis": {"orient": "bottom", "values": [0, 2, 4], "ticks": false, "domain": false, "grid": false, "title": null, "labelFontSize": 34, "labelPadding": 4, "labelFlush": false}},
  "y": {"field": "lo", "type": "quantitative", "scale": {"domain": [-0.115, 6.772], "nice": false, "zero": false}, "axis": null},
  "y2": {"field": "hi"}}},
{"data": {"name": "da_red_line"}, "mark": {"type": "line", "color": "#f5381c", "strokeWidth": 2, "clip": true},
 "encoding": {
  "x": {"field": "t", "type": "quantitative", "scale": {"domain": [-0.0587, 4.0335], "nice": false, "zero": false}, "axis": null},
  "y": {"field": "v", "type": "quantitative", "scale": {"domain": [-0.115, 6.772], "nice": false, "zero": false}, "axis": null}}},
{"data": {"name": "da_red_spikes"}, "mark": {"type": "rule", "color": "#f5381c", "strokeWidth": 1.6, "clip": true},
 "encoding": {
  "x": {"field": "t", "type": "quantitative", "scale": {"domain": [-0.0587, 4.0335], "nice": false, "zero": false}, "axis": null},
  "y": {"field": "v", "type": "quantitative", "scale": {"domain": [-0.115, 6.772], "nice": false, "zero": false}, "axis": null},
  "y2": {"datum": 0.3}}},
{"data": {"values": [{"t": 0.151, "v": 5.01, "label": "D"}, {"t": 0.344, "v": 5.01, "label": "(A.U.)"}]},
 "mark": {"type": "text", "align": "left", "baseline": "middle", "font": "Liberation Sans", "fontWeight": "bold", "fontSize": 34, "color": "black"},
 "encoding": {
  "x": {"field": "t", "type": "quantitative", "scale": {"domain": [-0.0587, 4.0335], "nice": false, "zero": false}, "axis": null},
  "y": {"field": "v", "type": "quantitative", "scale": {"domain": [-0.115, 6.772], "nice": false, "zero": false}, "axis": null},
  "text": {"field": "label"}}},
{"data": {"values": [{"t": 0.252, "v": 4.55, "label": "α"}]},
 "mark": {"type": "text", "align": "left", "baseline": "middle", "font": "Liberation Sans", "fontWeight": "bold", "fontSize": 28, "color": "black"},
 "encoding": {
  "x": {"field": "t", "type": "quantitative", "scale": {"domain": [-0.0587, 4.0335], "nice": false, "zero": false}, "axis": null},
  "y": {"field": "v", "type": "quantitative", "scale": {"domain": [-0.115, 6.772], "nice": false, "zero": false}, "axis": null},
  "text": {"field": "label"}}},
{"data": {"values": [{"t": 1.329, "v": -1.326, "label": "Time (sec)"}]},
 "mark": {"type": "text", "align": "center", "baseline": "middle", "font": "Liberation Sans", "fontWeight": "bold", "fontSize": 40, "color": "black"},
 "encoding": {
  "x": {"field": "t", "type": "quantitative", "scale": {"domain": [-0.0587, 4.0335], "nice": false, "zero": false}, "axis": null},
  "y": {"field": "v", "type": "quantitative", "scale": {"domain": [-0.115, 6.772], "nice": false, "zero": false}, "axis": null},
  "text": {"field": "label"}}}
]
}
]
}
